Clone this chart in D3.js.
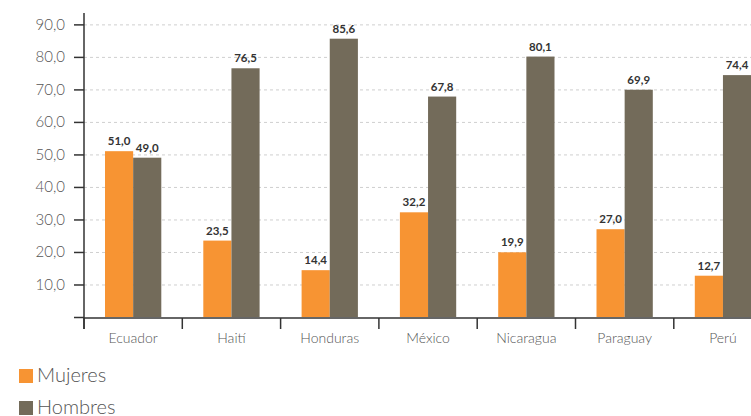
<!DOCTYPE html>
<html><head><meta charset="utf-8">
<script src="https://cdn.jsdelivr.net/npm/d3@7"></script>
<style>
body{margin:0;background:#fff;}
svg{display:block;font-family:Lato, "Open Sans", sans-serif;}
</style></head>
<body><svg id="c" width="751" height="416"></svg>
<script>
const categories = ["Ecuador","Haití","Honduras","México","Nicaragua","Paraguay","Perú"];
const series = ["Mujeres","Hombres"];
const mujeres = [51.0,23.5,14.4,32.2,19.9,27.0,12.7];
const hombres = [49.0,76.5,85.6,67.8,80.1,69.9,74.4];
const yTicks = [0,10,20,30,40,50,60,70,80,90];
const colors = ["#f79433","#736b5a"];

const svg = d3.select("#c");
const x0 = 84, y0 = 317;
const x = d3.scaleBand().domain(categories).range([x0, x0 + 98.3*7]).paddingInner(0).paddingOuter(0);
const y = d3.scaleLinear().domain([0, 93.5]).range([y0, 13]);
const xs = d3.scaleBand().domain(series).range([21, 98.3-21]);
const fmt = v => d3.format(".1f")(v).replace(".", ",");

// grid
svg.append("g").selectAll("line").data(yTicks.filter(d=>d>0)).join("line")
  .attr("x1", x0).attr("x2", 751).attr("y1", d=>y(d)+0.5).attr("y2", d=>y(d)+0.5)
  .attr("stroke", "#cfcfcf").attr("stroke-dasharray", "3,3");

// bars
const data = categories.map((c,i)=>({c, vals:[mujeres[i], hombres[i]]}));
const g = svg.append("g").selectAll("g").data(data).join("g")
  .attr("transform", d=>`translate(${x(d.c)},0)`);
g.selectAll("rect").data(d=>d.vals.map((v,j)=>({s:series[j], v, j}))).join("rect")
  .attr("x", d=>xs(d.s)).attr("width", xs.bandwidth())
  .attr("y", d=>y(d.v)).attr("height", d=>y0 - y(d.v))
  .attr("fill", d=>colors[d.j]);
g.selectAll("text").data(d=>d.vals.map((v,j)=>({s:series[j], v, j}))).join("text")
  .attr("x", d=>xs(d.s)+xs.bandwidth()/2).attr("y", d=>y(d.v)-6)
  .attr("text-anchor","middle").attr("font-size", 11.5).attr("font-weight","bold")
  .attr("fill","#333").text(d=>fmt(d.v));

// y axis
const yAxis = d3.axisLeft(y).tickValues(yTicks).tickSize(10).tickPadding(9)
  .tickFormat(d=> d===0 ? "" : fmt(d));
const ya = svg.append("g").attr("transform", `translate(${x0},0)`).call(yAxis);
ya.select(".domain").attr("d", `M0,13V329`).attr("stroke","#333").attr("stroke-width",1.5);
ya.selectAll(".tick line").attr("stroke","#333").attr("stroke-width",1.5);
ya.selectAll(".tick text").attr("font-size", 15).attr("fill","#555").attr("font-weight",300).attr("font-family","Lato, sans-serif");

// x axis
const xa = svg.append("g").attr("transform", `translate(0,${y0+1})`)
  .call(d3.axisBottom(x).tickSize(0).tickPadding(15));
xa.select(".domain").attr("d", `M${x0},0H${x0+98.3*7}`).attr("stroke","#333").attr("stroke-width",1.5);
xa.selectAll(".tick text").attr("font-size", 14).attr("fill","#555").attr("font-weight",300).attr("font-family","Lato, sans-serif");
svg.append("g").selectAll("line").data(categories.map((c,i)=>i)).join("line")
  .attr("x1", i=>x0 + i*x.step()).attr("x2", i=>x0 + i*x.step())
  .attr("y1", y0+1).attr("y2", y0+12).attr("stroke","#333").attr("stroke-width",1.5);

// legend
const lg = svg.append("g").selectAll("g").data(series).join("g")
  .attr("transform", (d,i)=>`translate(19,${369 + i*32})`);
lg.append("rect").attr("width",14).attr("height",14).attr("fill",(d,i)=>colors[i]);
lg.append("text").attr("x",18).attr("y",13).attr("font-size",20).attr("font-weight",300).attr("fill","#555").text(d=>d);
</script></body></html>
